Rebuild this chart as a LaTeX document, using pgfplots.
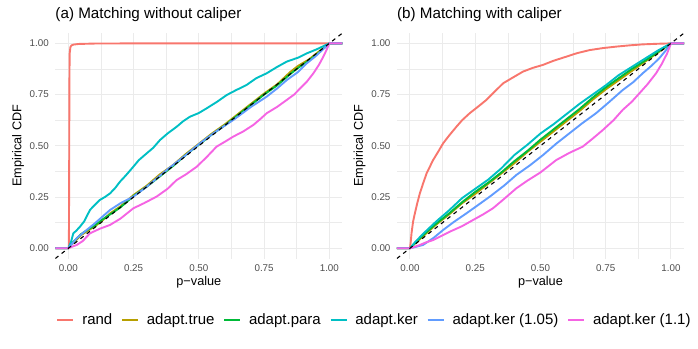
\documentclass[border=0pt]{standalone}
\usepackage{fontspec}
\setmainfont{Liberation Sans}
\usepackage{pgfplots}
\pgfplotsset{compat=1.18}

\definecolor{crand}{HTML}{F8766D}
\definecolor{ctrue}{HTML}{B79F00}
\definecolor{cpara}{HTML}{00BA38}
\definecolor{cker}{HTML}{00BFC4}
\definecolor{ckerA}{HTML}{619CFF}
\definecolor{ckerB}{HTML}{F564E3}
\definecolor{gridc}{HTML}{EBEBEB}
\definecolor{tickc}{HTML}{4D4D4D}

\pgfplotsset{
  ecdf/.style={
    scale only axis,
    width=287.1bp, height=225.4bp,
    xmin=-0.05, xmax=1.05, ymin=-0.05, ymax=1.05,
    axis line style={draw=none},
    major tick length=0pt, minor tick length=0pt,
    xtick={0,0.25,0.5,0.75,1}, ytick={0,0.25,0.5,0.75,1},
    xticklabels={0.00,0.25,0.50,0.75,1.00},
    yticklabels={0.00,0.25,0.50,0.75,1.00},
    minor xtick={0.125,0.375,0.625,0.875},
    minor ytick={0.125,0.375,0.625,0.875},
    grid=both,
    major grid style={gridc, line width=1bp},
    minor grid style={gridc, line width=0.5bp},
    tick label style={font=\fontsize{9.8bp}{11bp}\selectfont, text=tickc, inner sep=0pt},
    xticklabel style={anchor=base, yshift=-13bp},
    yticklabel style={anchor=east, xshift=-6.3bp},
    xlabel={p−value}, ylabel={Empirical CDF},
    label style={font=\fontsize{12.7bp}{14bp}\selectfont, inner sep=0pt},
    xlabel style={at={(axis description cs:0.5,-0.1216)}, anchor=base},
    ylabel style={at={(axis description cs:-0.1184,0.5)}, anchor=base, rotate=0},
    title style={font=\fontsize{15.2bp}{17bp}\selectfont, inner sep=0pt,
      at={(axis description cs:0,1.0404)}, anchor=base west},
    every axis plot/.append style={line width=1.9bp, line join=round},
    legend image code/.code={\draw[#1, line width=2.6bp] (0bp,0bp) -- (16bp,0bp);},
  }
}

\begin{document}
\begin{tikzpicture}
\useasboundingbox (-55.3bp,-90.5bp) rectangle (642.7bp,258.5bp);

% panel (a)
\begin{axis}[ecdf, title={(a) Matching without caliper},
  legend columns=6,
  legend style={at={(axis description cs:0.0024,-0.2729)}, anchor=west,
    draw=none, fill=none, inner sep=0pt,
    font=\fontsize{15bp}{17bp}\selectfont,
    nodes={inner xsep=0pt, inner ysep=1bp},
    /tikz/every odd column/.append style={column sep=7.5bp},
    /tikz/every even column/.append style={column sep=8.5bp}}]
\addplot[crand] coordinates {(-0.05,0)(0.002,0)(0.003,0.30)(0.004,0.80)(0.005,0.95)(0.008,0.982)(0.012,0.99)(0.02,0.994)(0.04,0.997)(0.1,0.999)(0.3,1)(1.05,1)};
\addplot[ctrue] coordinates {(-0.05,0)(0,0)(0.01,0.015)(0.03,0.04)(0.05,0.065)(0.08,0.09)(0.1,0.105)(0.13,0.135)(0.16,0.17)(0.2,0.205)(0.25,0.26)(0.3,0.305)(0.35,0.36)(0.4,0.405)(0.45,0.46)(0.5,0.51)(0.55,0.56)(0.6,0.605)(0.65,0.655)(0.7,0.705)(0.75,0.755)(0.8,0.80)(0.85,0.86)(0.88,0.89)(0.92,0.92)(0.96,0.96)(1,1)(1.05,1)};
\addplot[cpara] coordinates {(-0.05,0)(0,0)(0.01,0.02)(0.03,0.045)(0.05,0.07)(0.08,0.095)(0.1,0.11)(0.13,0.14)(0.16,0.165)(0.2,0.2)(0.25,0.255)(0.3,0.3)(0.35,0.35)(0.4,0.4)(0.45,0.455)(0.5,0.505)(0.55,0.555)(0.6,0.6)(0.65,0.65)(0.7,0.7)(0.75,0.75)(0.8,0.795)(0.85,0.85)(0.88,0.88)(0.92,0.915)(0.96,0.955)(1,1)(1.05,1)};
\addplot[cker] coordinates {(-0.05,0)(0,0)(0.01,0.03)(0.019,0.073)(0.03,0.085)(0.045,0.106)(0.06,0.13)(0.083,0.187)(0.1,0.21)(0.121,0.236)(0.14,0.25)(0.16,0.268)(0.18,0.295)(0.198,0.325)(0.22,0.355)(0.249,0.398)(0.27,0.43)(0.30,0.463)(0.325,0.49)(0.351,0.528)(0.38,0.56)(0.415,0.593)(0.44,0.62)(0.466,0.642)(0.5,0.66)(0.53,0.683)(0.57,0.715)(0.607,0.748)(0.64,0.77)(0.683,0.797)(0.72,0.83)(0.76,0.854)(0.8,0.885)(0.837,0.911)(0.88,0.93)(0.913,0.951)(0.95,0.97)(0.98,0.988)(1,1)(1.05,1)};
\addplot[ckerA] coordinates {(-0.05,0)(0,0)(0.02,0.03)(0.032,0.049)(0.07,0.089)(0.1,0.12)(0.16,0.187)(0.2,0.22)(0.249,0.252)(0.3,0.3)(0.377,0.382)(0.45,0.455)(0.504,0.512)(0.56,0.565)(0.632,0.626)(0.7,0.69)(0.76,0.74)(0.8,0.78)(0.837,0.821)(0.88,0.86)(0.913,0.902)(0.95,0.94)(1,1)(1.05,1)};
\addplot[ckerB] coordinates {(-0.05,0)(0,0)(0.015,0.008)(0.032,0.016)(0.055,0.035)(0.083,0.073)(0.12,0.095)(0.16,0.114)(0.2,0.145)(0.249,0.195)(0.29,0.22)(0.338,0.252)(0.38,0.29)(0.415,0.333)(0.45,0.36)(0.492,0.398)(0.53,0.445)(0.568,0.496)(0.6,0.52)(0.632,0.545)(0.67,0.57)(0.709,0.602)(0.735,0.63)(0.76,0.659)(0.8,0.69)(0.837,0.724)(0.865,0.75)(0.888,0.78)(0.915,0.815)(0.939,0.854)(0.96,0.895)(0.977,0.935)(0.99,0.97)(1,1)(1.05,1)};
\addplot[black, line width=1.1bp, dash pattern=on 4bp off 4bp, forget plot] coordinates {(-0.05,-0.05)(1.05,1.05)};
\legend{rand, adapt.true, adapt.para, adapt.ker, adapt.ker (1.05), adapt.ker (1.1)}
\end{axis}

% panel (b)
\begin{axis}[ecdf, at={(341.6bp,0bp)}, title={(b) Matching with caliper}]
\addplot[crand] coordinates {(-0.05,0)(0,0)(0.003,0.03)(0.006,0.073)(0.012,0.13)(0.019,0.171)(0.028,0.22)(0.038,0.268)(0.05,0.315)(0.064,0.366)(0.077,0.40)(0.089,0.431)(0.11,0.475)(0.127,0.512)(0.15,0.55)(0.178,0.593)(0.2,0.625)(0.229,0.659)(0.26,0.69)(0.293,0.724)(0.325,0.765)(0.357,0.805)(0.39,0.83)(0.433,0.862)(0.47,0.88)(0.51,0.895)(0.55,0.915)(0.599,0.935)(0.64,0.952)(0.688,0.967)(0.74,0.977)(0.79,0.984)(0.84,0.99)(0.892,0.995)(0.95,0.998)(1,1)(1.05,1)};
\addplot[ctrue] coordinates {(-0.05,0)(0,0)(0.03,0.035)(0.06,0.07)(0.1,0.115)(0.15,0.165)(0.2,0.22)(0.25,0.265)(0.3,0.315)(0.35,0.365)(0.4,0.415)(0.45,0.47)(0.5,0.52)(0.55,0.57)(0.6,0.62)(0.65,0.67)(0.7,0.725)(0.75,0.775)(0.8,0.82)(0.85,0.865)(0.9,0.91)(0.95,0.955)(1,1)(1.05,1)};
\addplot[cpara] coordinates {(-0.05,0)(0,0)(0.03,0.04)(0.06,0.075)(0.1,0.12)(0.15,0.17)(0.2,0.225)(0.25,0.275)(0.3,0.32)(0.35,0.37)(0.4,0.425)(0.45,0.475)(0.5,0.53)(0.55,0.58)(0.6,0.63)(0.65,0.68)(0.7,0.735)(0.75,0.785)(0.8,0.83)(0.85,0.875)(0.9,0.915)(0.95,0.958)(1,1)(1.05,1)};
\addplot[cker] coordinates {(-0.05,0)(0,0)(0.02,0.03)(0.05,0.07)(0.1,0.13)(0.15,0.185)(0.2,0.245)(0.25,0.29)(0.3,0.335)(0.35,0.39)(0.4,0.455)(0.45,0.505)(0.5,0.56)(0.55,0.605)(0.6,0.655)(0.65,0.705)(0.7,0.75)(0.75,0.795)(0.8,0.845)(0.85,0.885)(0.9,0.925)(0.95,0.965)(1,1)(1.05,1)};
\addplot[ckerA] coordinates {(-0.05,0)(0,0)(0.02,0.006)(0.05,0.016)(0.09,0.05)(0.127,0.089)(0.17,0.13)(0.217,0.171)(0.26,0.21)(0.306,0.252)(0.36,0.305)(0.408,0.358)(0.46,0.405)(0.51,0.455)(0.56,0.51)(0.611,0.561)(0.66,0.61)(0.713,0.659)(0.76,0.71)(0.815,0.772)(0.855,0.81)(0.892,0.854)(0.925,0.89)(0.955,0.927)(0.98,0.965)(1,1)(1.05,1)};
\addplot[ckerB] coordinates {(-0.05,0)(0,0)(0.02,0.008)(0.038,0.016)(0.06,0.028)(0.089,0.04)(0.12,0.06)(0.153,0.081)(0.2,0.108)(0.242,0.138)(0.28,0.165)(0.318,0.195)(0.36,0.24)(0.408,0.293)(0.45,0.33)(0.5,0.37)(0.56,0.43)(0.61,0.465)(0.662,0.496)(0.7,0.535)(0.739,0.577)(0.78,0.625)(0.815,0.675)(0.85,0.715)(0.879,0.756)(0.91,0.8)(0.943,0.854)(0.965,0.9)(0.985,0.95)(1,1)(1.05,1)};
\addplot[black, line width=1.1bp, dash pattern=on 4bp off 4bp, forget plot] coordinates {(-0.05,-0.05)(1.05,1.05)};
\end{axis}
\end{tikzpicture}
\end{document}
